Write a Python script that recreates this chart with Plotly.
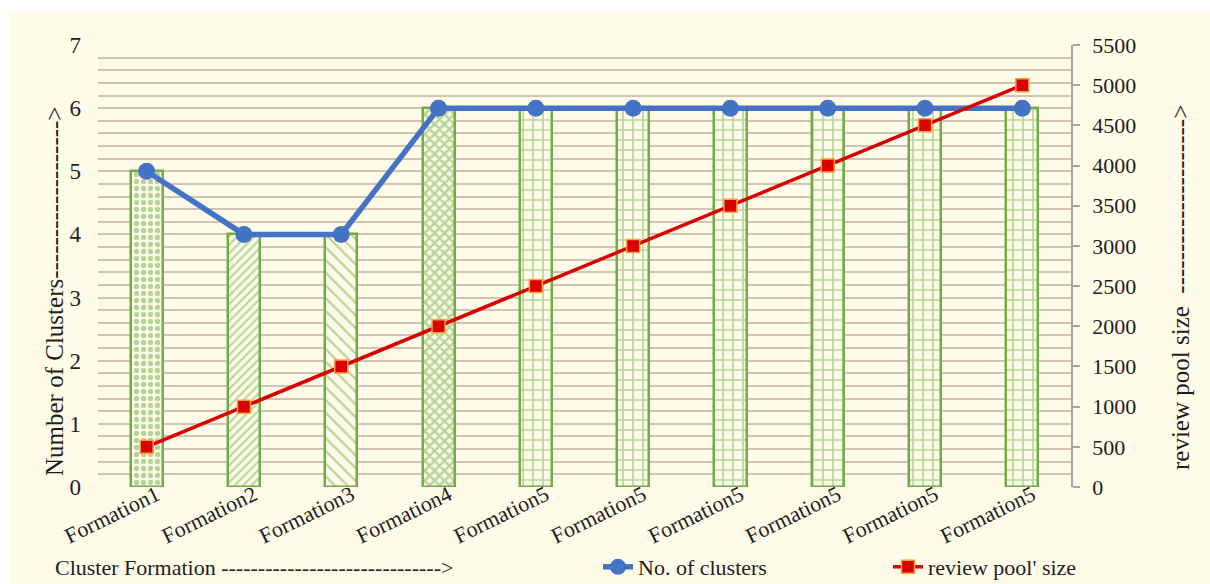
import plotly.graph_objects as go

# ---- data ----
categories = ["Formation1", "Formation2", "Formation3", "Formation4",
              "Formation5", "Formation5", "Formation5", "Formation5",
              "Formation5", "Formation5"]
clusters = [5, 4, 4, 6, 6, 6, 6, 6, 6, 6]
pool_size = [500, 1000, 1500, 2000, 2500, 3000, 3500, 4000, 4500, 5000]
bar_patterns = [".", "/", "\\", "x", "+", "+", "+", "+", "+", "+"]

# ---- styling ----
W, H = 1210, 584
ML, MR, MT, MB = 98, 139, 45, 97
PW, PH = W - ML - MR, H - MT - MB
CREAM = "#FEFBE9"
GREEN = "#70AD47"
BLUE = "#4472C4"
RED = "#D90000"
GRID = "#D2C4B3"
FONT = "Times New Roman, Liberation Serif, serif"


def px(x):
    return (x - ML) / PW


def py(y):
    return 1 - (y - MT) / PH


xpos = list(range(len(categories)))

fig = go.Figure()

fig.add_trace(go.Bar(
    x=xpos, y=clusters, width=0.33, showlegend=False,
    marker=dict(
        color=CREAM,
        line=dict(color=GREEN, width=2.5),
        pattern=dict(shape=bar_patterns, fgcolor=GREEN, bgcolor=CREAM,
                     size=[7, 6, 9, 7, 10, 10, 10, 10, 10, 10],
                     solidity=[0.45, 0.35, 0.25, 0.6, 0.3, 0.3, 0.3, 0.3, 0.3, 0.3],
                     fillmode="overlay"),
    ),
    hoverinfo="skip",
))

fig.add_trace(go.Scatter(
    x=xpos, y=clusters, name="No. of clusters", mode="lines+markers",
    line=dict(color=BLUE, width=5.5),
    marker=dict(symbol="circle", size=17, color=BLUE),
))

fig.add_trace(go.Scatter(
    x=xpos, y=pool_size, name="review pool' size", mode="lines+markers",
    yaxis="y2",
    line=dict(color=RED, width=3.5),
    marker=dict(symbol="square", size=13, color=RED,
                line=dict(color="#F7A035", width=1.5)),
))

fig.update_layout(
    width=W, height=H,
    margin=dict(l=ML, r=MR, t=MT, b=MB, autoexpand=False),
    paper_bgcolor="white",
    plot_bgcolor=CREAM,
    font=dict(family=FONT, size=22, color="#1E1E1E"),
    bargap=0,
    xaxis=dict(
        range=[-0.5, 9.5], tickmode="array", tickvals=xpos, ticktext=categories,
        tickangle=-26, showgrid=False, zeroline=False, showline=False,
        ticks="", tickfont=dict(size=22), ticklabelstandoff=-10,
        ticklabelshift=10, automargin=False,
    ),
    yaxis=dict(
        range=[0, 7], dtick=1, showgrid=True, gridcolor=GRID, gridwidth=2,
        zeroline=False, showline=False, ticks="", ticklabelstandoff=16,
        tickfont=dict(size=23), automargin=False,
        minor=dict(dtick=0.2, showgrid=True, gridcolor=GRID, gridwidth=2),
    ),
    yaxis2=dict(
        range=[0, 5500], dtick=500, overlaying="y", side="right",
        showgrid=False, zeroline=False, showline=True, linecolor="#A6A6A6",
        linewidth=1.5, ticks="outside", ticklen=7, tickcolor="#A6A6A6",
        tickwidth=1.5, ticklabelstandoff=8, tickfont=dict(size=22),
        automargin=False,
    ),
    legend=dict(
        orientation="h", x=px(598), y=py(567), xanchor="left", yanchor="middle",
        bgcolor="rgba(0,0,0,0)", entrywidth=245, entrywidthmode="pixels",
        font=dict(size=22),
    ),
    shapes=[dict(
        type="rect", xref="paper", yref="paper", layer="below",
        x0=px(9), x1=px(W + 5), y0=py(H + 5), y1=py(11),
        fillcolor=CREAM, line=dict(width=0),
    )],
    annotations=[
        dict(text="Number of Clusters------------------->", textangle=-90,
             xref="paper", yref="paper", x=px(54), y=py(292),
             xanchor="center", yanchor="middle", showarrow=False,
             font=dict(size=25)),
        dict(text="review pool size  --------------------->", textangle=-90,
             xref="paper", yref="paper", x=px(1180), y=py(288),
             xanchor="center", yanchor="middle", showarrow=False,
             font=dict(size=25)),
        dict(text="Cluster Formation ------------------------------>",
             xref="paper", yref="paper", x=px(53), y=py(567),
             xanchor="left", yanchor="middle", showarrow=False,
             font=dict(size=22)),
    ],
)

fig.write_html("out.html")
